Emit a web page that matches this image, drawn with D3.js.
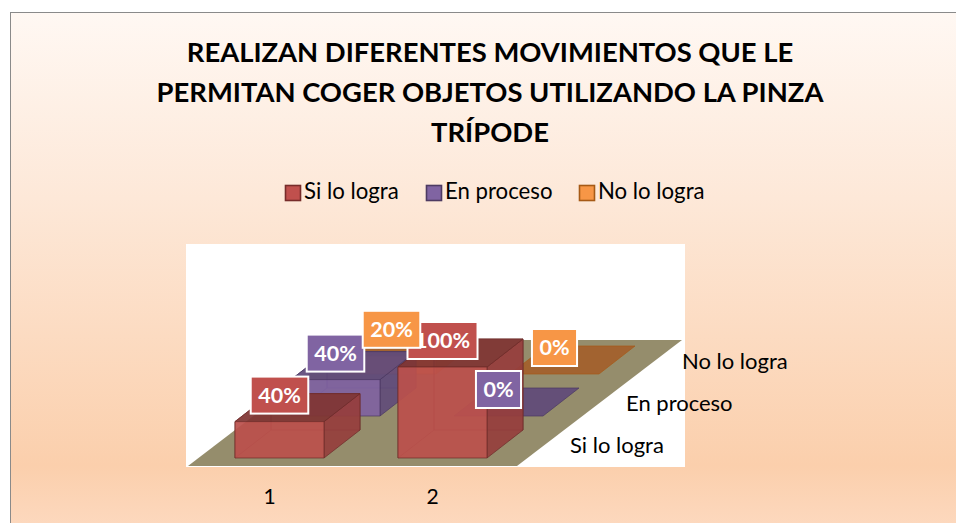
<!DOCTYPE html>
<html><head><meta charset="utf-8">
<script src="https://cdn.jsdelivr.net/npm/d3@7"></script>
<style>html,body{margin:0;padding:0;background:#fff}svg{display:block}text{font-family:Lato,"Open Sans",sans-serif}</style>
</head><body><svg id="c" width="956" height="523"></svg>
<script>
const titleLines = ["REALIZAN DIFERENTES MOVIMIENTOS QUE LE","PERMITAN COGER OBJETOS UTILIZANDO LA PINZA","TRÍPODE"];
const categories = ["1","2"];
const seriesNames = ["Si lo logra","En proceso","No lo logra"];
const siLoLogra = [40,100];
const enProceso = [40,0];
const noLoLogra = [20,0];
const seriesValues = [siLoLogra,enProceso,noLoLogra];
const valueTicks = [0,100];

const palette = {
  "Si lo logra":{front:"#bb504c",top:"#7f3533",side:"#953d3c",stroke:"#6e2b29",label:"#c0504d",swatch:"#c0504d",edge:"#772c2a"},
  "En proceso":{front:"#7f62a1",top:"#5f4a7a",side:"#5f4a7a",stroke:"#4a3763",label:"#8064a2",swatch:"#8064a2",edge:"#4d3b62"},
  "No lo logra":{front:"#e8873c",top:"#a3602b",side:"#b4661f",stroke:"#a65a17",label:"#f79646",swatch:"#f79646",edge:"#a65a16"}
};

const svg = d3.select("#c");
const defs = svg.append("defs");
const grad = defs.append("linearGradient").attr("id","bg").attr("x1",0).attr("y1",0).attr("x2",0).attr("y2",1);
[[0,"#fff8f3"],[0.35,"#fde8d8"],[0.855,"#fbcfac"],[1,"#fddbc3"]].forEach(s=>grad.append("stop").attr("offset",s[0]).attr("stop-color",s[1]));

svg.append("rect").attr("x",10.5).attr("y",12.5).attr("width",960).attr("height",530)
  .attr("fill","url(#bg)").attr("stroke","#8a8a8a").attr("stroke-width",1);

// title
svg.append("g").selectAll("text").data(titleLines).join("text")
  .attr("x",490).attr("y",(d,i)=>62+i*40).attr("text-anchor","middle")
  .attr("font-size",27.4).attr("font-weight",700).attr("fill","#000").text(d=>d);

// legend
const legendX = [285,426,579];
const lg = svg.append("g").selectAll("g").data(seriesNames).join("g")
  .attr("transform",(d,i)=>`translate(${legendX[i]},185)`);
lg.append("rect").attr("x",.5).attr("y",.5).attr("width",15).attr("height",15)
  .attr("fill",d=>palette[d].swatch).attr("stroke",d=>palette[d].edge).attr("stroke-width",1.6);
lg.append("text").attr("x",19).attr("y",14).attr("font-size",22.2).attr("fill","#000").text(d=>d);

// plot background
svg.append("rect").attr("x",186).attr("y",244).attr("width",499).attr("height",223).attr("fill","#fff");

// scales
const xBand = d3.scaleBand().domain(categories).range([153.5,568.5]).paddingInner(1-89/163).paddingOuter(0.5);
const depthX = d3.scalePoint().domain(seriesNames).range([0,112]);
const depthY = d3.scalePoint().domain(seriesNames).range([458,374]);
const heightScale = d3.scaleLinear().domain(valueTicks).range([0,91]);
const boxDX = 36, boxDY = -28;

// floor
const floorX = d3.scaleLinear().domain([0,1]).range([188,517]);
const floorDepth = d3.scaleLinear().domain([0,1]).range([0,165]);
const floorY = d3.scaleLinear().domain([0,1]).range([466,340]);
const floorPts = [[0,0],[1,0],[1,1],[0,1]].map(([u,v])=>[floorX(u)+floorDepth(v),floorY(v)]);
svg.append("polygon").attr("points",floorPts.join(" ")).attr("fill","#958d6c");

// bars, back to front
const marks = [];
seriesNames.forEach((s,si)=>categories.forEach((c,ci)=>marks.push({s,c,si,ci,v:seriesValues[si][ci]})));
const geom = d=>{
  const w = xBand.bandwidth();
  const x0 = xBand(d.c)+depthX(d.s), y0 = depthY(d.s), h = heightScale(d.v);
  return {x0,x1:x0+w,y0,yt:y0-h,w};
};
const barsG = svg.append("g");
[...marks].sort((a,b)=>b.si-a.si||a.ci-b.ci).forEach(d=>{
  const g = geom(d), p = palette[d.s], o = barsG.append("g");
  const poly=(pts,fill,op)=>o.append("polygon").attr("points",pts.join(" ")).attr("fill",fill).attr("fill-opacity",op)
    .attr("stroke",p.stroke).attr("stroke-width",1).attr("stroke-opacity",.7).attr("stroke-linejoin","round");
  if(d.v>0){
    // inner back edges seen through the translucent faces
    poly([[g.x0+boxDX,g.y0+boxDY],[g.x1+boxDX,g.y0+boxDY],[g.x1+boxDX,g.yt+boxDY],[g.x0+boxDX,g.yt+boxDY]],p.front,.25);
    poly([[g.x0,g.y0],[g.x0+boxDX,g.y0+boxDY],[g.x0+boxDX,g.yt+boxDY],[g.x0,g.yt]],p.front,.1);
    poly([[g.x1,g.y0],[g.x1+boxDX,g.y0+boxDY],[g.x1+boxDX,g.yt+boxDY],[g.x1,g.yt]],p.side,.9);
    poly([[g.x0,g.yt],[g.x1,g.yt],[g.x1+boxDX,g.yt+boxDY],[g.x0+boxDX,g.yt+boxDY]],p.top,.92);
    poly([[g.x0,g.y0],[g.x1,g.y0],[g.x1,g.yt],[g.x0,g.yt]],p.front,.92);
  } else {
    poly([[g.x0,g.y0],[g.x1,g.y0],[g.x1+boxDX,g.y0+boxDY],[g.x0+boxDX,g.y0+boxDY]],p.top,.92);
  }
});

// data labels
const labelsG = svg.append("g");
marks.forEach(d=>{
  const g = geom(d), p = palette[d.s];
  const cx = g.x0+g.w/2, cy = g.yt-26.5;
  const o = labelsG.append("g");
  const r = o.append("rect"), t = o.append("text").attr("x",cx).attr("y",cy+7.5).attr("text-anchor","middle")
    .attr("font-size",21.5).attr("font-weight",700).attr("fill","#fff").text(d.v+"%");
  const bw = t.node().getBBox().width+15;
  r.attr("x",cx-bw/2).attr("y",cy-18.5).attr("width",bw).attr("height",37).attr("fill",p.label)
    .attr("stroke","#fff").attr("stroke-width",2);
});

// axis labels
svg.append("g").selectAll("text").data(categories).join("text")
  .attr("x",d=>xBand(d)+xBand.bandwidth()/2-10).attr("y",504).attr("text-anchor","middle")
  .attr("font-size",21).attr("fill","#000").text(d=>d);
svg.append("g").selectAll("text").data(seriesNames).join("text")
  .attr("x",d=>570+depthX(d)).attr("y",d=>453-(depthX(d)*0.75)).attr("font-size",22).attr("fill","#000").text(d=>d);
</script></body></html>
